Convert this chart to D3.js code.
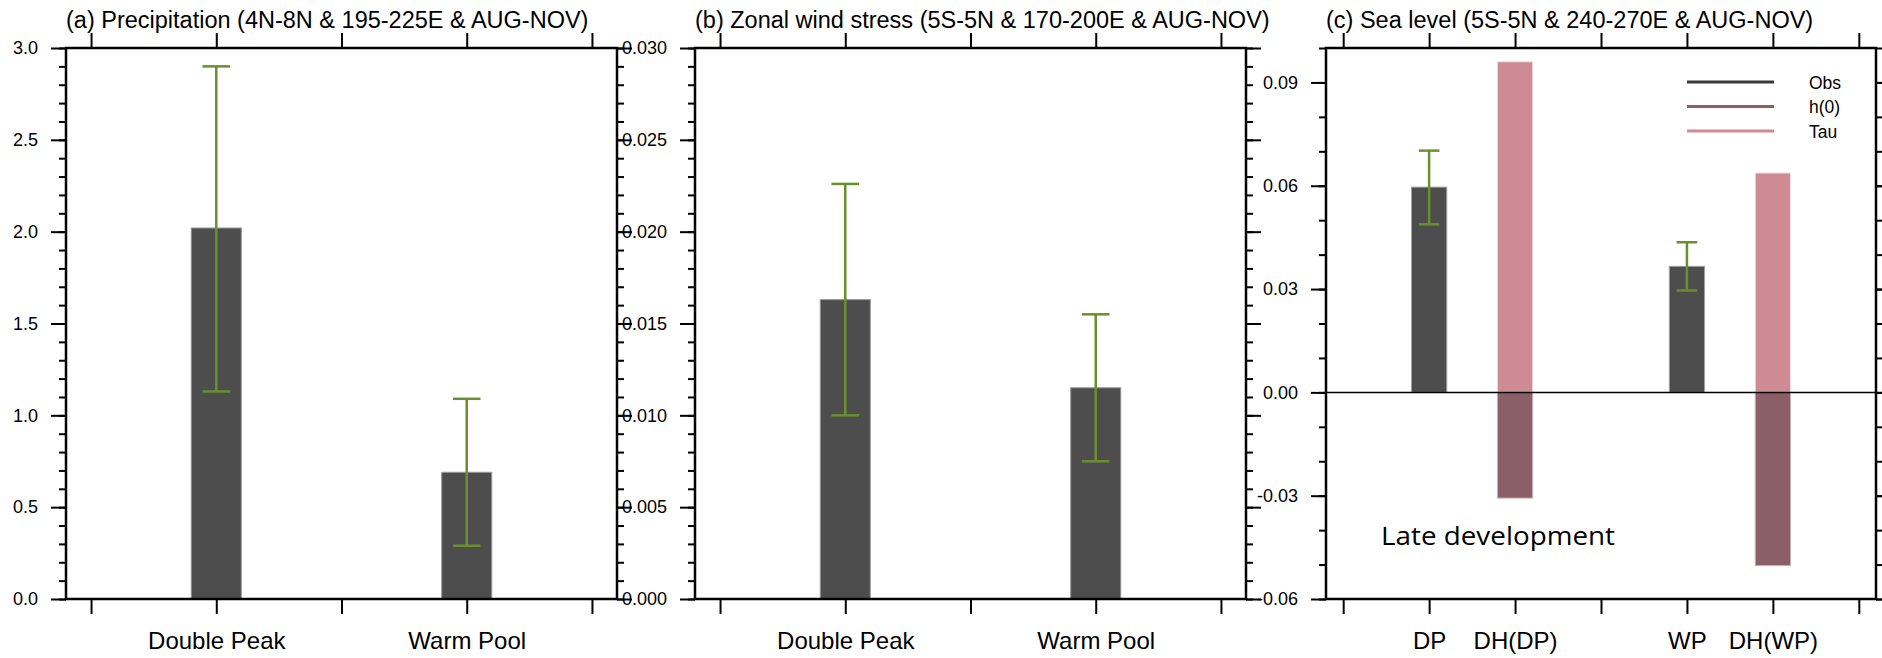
<!DOCTYPE html>
<html>
<head>
<meta charset="utf-8">
<script src="https://cdnjs.cloudflare.com/ajax/libs/d3/7.8.5/d3.min.js"></script>
<style>
  body { margin: 0; background: #fff; }
  svg { display: block; }
</style>
</head>
<body>
<div id="chart"></div>
<script>
// values
var precipCats = ["Double Peak", "Warm Pool"];
var precipMean = [2.02, 0.69];
var precipLow = [1.13, 0.29];
var precipHigh = [2.90, 1.09];

var tauxCats = ["Double Peak", "Warm Pool"];
var tauxMean = [0.0163, 0.0115];
var tauxLow = [0.0100, 0.0075];
var tauxHigh = [0.0226, 0.0155];

var seaCats = ["DP", "DH(DP)", "WP", "DH(WP)"];
var seaObs = [0.0596, 0.0366];
var seaObsLow = [0.0488, 0.0296];
var seaObsHigh = [0.0702, 0.0436];
var seaH0 = [-0.0307, -0.0503];
var seaTau = [0.0960, 0.0637];

var legendNames = ["Obs", "h(0)", "Tau"];

var titles = [
  "(a) Precipitation (4N-8N & 195-225E & AUG-NOV)",
  "(b) Zonal wind stress (5S-5N & 170-200E & AUG-NOV)",
  "(c) Sea level (5S-5N & 240-270E & AUG-NOV)"
];

var colObs = "#4d4d4d", colH0 = "#8b5f67", colTau = "#ce8b94", colErr = "#6b8e2f";
var fontHelv = "'Liberation Sans', Arial, Helvetica, sans-serif";

var width = 1882, height = 658;
var plotTop = 48, plotBottom = 599;

var svg = d3.select("#chart").append("svg")
  .attr("width", width)
  .attr("height", height);

function drawAxes(g, x, y, x0, x1, xTicks, xLabel, yMajor, yMinor, yFmt) {
  // minor ticks left / right
  g.append("g").attr("transform", "translate(" + x0 + ",0)")
    .call(d3.axisLeft(y).tickValues(yMinor).tickSize(7).tickSizeOuter(0).tickFormat(""));
  g.append("g").attr("transform", "translate(" + x1 + ",0)")
    .call(d3.axisRight(y).tickValues(yMinor).tickSize(7).tickSizeOuter(0).tickFormat(""));
  // major ticks
  g.append("g").attr("class", "ylab").attr("transform", "translate(" + x0 + ",0)")
    .call(d3.axisLeft(y).tickValues(yMajor).tickSize(15).tickPadding(13).tickSizeOuter(0).tickFormat(yFmt));
  g.append("g").attr("transform", "translate(" + x1 + ",0)")
    .call(d3.axisRight(y).tickValues(yMajor).tickSize(15).tickSizeOuter(0).tickFormat(""));
  g.append("g").attr("transform", "translate(0," + plotTop + ")")
    .call(d3.axisTop(x).tickValues(xTicks).tickSize(15).tickSizeOuter(0).tickFormat(""));
  g.append("g").attr("class", "xlab").attr("transform", "translate(0," + plotBottom + ")")
    .call(d3.axisBottom(x).tickValues(xTicks).tickSize(15).tickPadding(18).tickSizeOuter(0).tickFormat(xLabel));

  g.selectAll(".domain").remove();
  g.selectAll(".tick line").attr("stroke", "#000").attr("stroke-width", 2);
  g.selectAll(".ylab text").attr("font-family", fontHelv).attr("font-size", 18).attr("fill", "#000");
  g.selectAll(".xlab text").attr("font-family", fontHelv).attr("font-size", 24).attr("fill", "#000");

  g.append("rect")
    .attr("x", x0).attr("y", plotTop)
    .attr("width", x1 - x0).attr("height", plotBottom - plotTop)
    .attr("fill", "none").attr("stroke", "#000").attr("stroke-width", 2.5);
}

function errorBars(g, x, y, pos, lo, hi, half) {
  pos.forEach(function(p, i) {
    g.append("line")
      .attr("x1", x(p)).attr("x2", x(p))
      .attr("y1", y(lo[i])).attr("y2", y(hi[i]))
      .attr("stroke", colErr).attr("stroke-width", 2.5);
    [lo[i], hi[i]].forEach(function(v) {
      g.append("line")
        .attr("x1", x(p - half)).attr("x2", x(p + half))
        .attr("y1", y(v)).attr("y2", y(v))
        .attr("stroke", colErr).attr("stroke-width", 2.5);
    });
  });
}

function bars(g, x, y, pos, vals, w, color, edge) {
  g.selectAll(null)
    .data(vals)
    .enter().append("rect")
    .attr("x", function(d, i) { return x(pos[i] - w / 2); })
    .attr("width", function() { return x(w) - x(0); })
    .attr("y", function(d) { return Math.min(y(d), y(0)); })
    .attr("height", function(d) { return Math.abs(y(d) - y(0)); })
    .attr("fill", color)
    .attr("stroke", edge)
    .attr("stroke-width", 1);
}

function title(g, x0, text) {
  g.append("text")
    .attr("x", x0).attr("y", 28)
    .attr("font-family", fontHelv).attr("font-size", 23.5)
    .attr("fill", "#000")
    .text(text);
}

// two-category panels (a) and (b)
function simplePanel(x0, x1, cats, mean, lo, hi, yMax, step, minor, digits, ttl) {
  var g = svg.append("g");
  var x = d3.scaleLinear().domain([0.4, 2.6]).range([x0, x1]);
  var y = d3.scaleLinear().domain([0, yMax]).range([plotBottom, plotTop]);
  var pos = cats.map(function(c, i) { return i + 1; });

  bars(g, x, y, pos, mean, 0.2, colObs, "#9a9a9a");
  errorBars(g, x, y, pos, lo, hi, 0.055);

  var yMajor = d3.range(0, Math.round(yMax / step) + 1).map(function(i) { return +(i * step).toFixed(6); });
  var yMinor = d3.range(0, Math.round(yMax / minor) + 1).map(function(i) { return +(i * minor).toFixed(6); });
  drawAxes(g, x, y, x0, x1, [0.5, 1, 1.5, 2, 2.5],
    function(d) { var k = pos.indexOf(d); return k >= 0 ? cats[k] : ""; },
    yMajor, yMinor, function(d) { return d.toFixed(digits); });
  title(g, x0, ttl);
}

simplePanel(66, 617, precipCats, precipMean, precipLow, precipHigh, 3.0, 0.5, 0.1, 1, titles[0]);
simplePanel(695, 1246, tauxCats, tauxMean, tauxLow, tauxHigh, 0.030, 0.005, 0.001, 3, titles[1]);

// panel (c)
(function() {
  var x0 = 1326, x1 = 1876;
  var g = svg.append("g");
  var x = d3.scaleLinear().domain([0.8, 7.2]).range([x0, x1]);
  var y = d3.scaleLinear().domain([-0.06, 0.10]).range([plotBottom, plotTop]);
  // two groups of (obs, DH) with an empty slot between them
  var pos = seaCats.map(function(c, i) { return Math.floor(i / 2) * 3 + (i % 2) + 2; });
  var obsPos = [pos[0], pos[2]], dhPos = [pos[1], pos[3]];

  bars(g, x, y, obsPos, seaObs, 0.41, colObs, "#a0a0a0");
  bars(g, x, y, dhPos, seaTau, 0.41, colTau, "#f0dde0");
  bars(g, x, y, dhPos, seaH0, 0.41, colH0, "#c8b2b6");
  errorBars(g, x, y, obsPos, seaObsLow, seaObsHigh, 0.12);

  g.append("line")
    .attr("x1", x0).attr("x2", x1)
    .attr("y1", y(0)).attr("y2", y(0))
    .attr("stroke", "#000").attr("stroke-width", 1.5);

  var yMajor = d3.range(-2, 4).map(function(i) { return +(i * 0.03).toFixed(2); });
  var yMinor = d3.range(-6, 11).map(function(i) { return i / 100; });
  drawAxes(g, x, y, x0, x1, d3.range(1, 8),
    function(d) { var k = pos.indexOf(d); return k >= 0 ? seaCats[k] : ""; },
    yMajor, yMinor, function(d) { return d.toFixed(2); });
  title(g, x0, titles[2]);

  // legend
  var legColors = [colObs, colH0, colTau];
  legendNames.forEach(function(name, i) {
    var ly = 82 + i * 24.5;
    g.append("line")
      .attr("x1", 1687).attr("x2", 1774)
      .attr("y1", ly).attr("y2", ly)
      .attr("stroke", i === 0 ? "#3a3a3a" : legColors[i]).attr("stroke-width", 3);
    g.append("text")
      .attr("x", 1809).attr("y", ly + 6.5)
      .attr("font-family", fontHelv).attr("font-size", 17.5)
      .attr("fill", "#000")
      .text(name);
  });

  g.append("text")
    .attr("x", 1381).attr("y", 545)
    .attr("font-family", "'Open Sans', 'Noto Sans', sans-serif")
    .attr("font-size", 25)
    .attr("textLength", 234).attr("lengthAdjust", "spacingAndGlyphs")
    .attr("fill", "#000")
    .text("Late development");
})();
</script>
</body>
</html>
